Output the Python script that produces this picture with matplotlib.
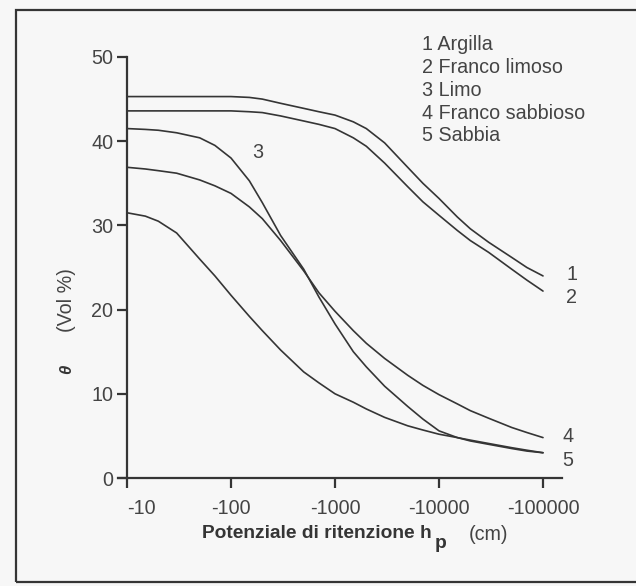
import numpy as np
import matplotlib.pyplot as plt
from matplotlib.patches import Rectangle

plt.rcParams['font.family'] = ['Liberation Sans', 'DejaVu Sans']

# potenziale di ritenzione (cm), plotted as |h| on a log axis
h = [10, 15, 20, 30, 50, 70, 100, 150, 200, 300, 500, 700, 1000, 1500, 2000,
     3000, 5000, 7000, 10000, 15000, 20000, 30000, 50000, 70000, 100000]

argilla = [45.3, 45.3, 45.3, 45.3, 45.3, 45.3, 45.3, 45.2, 45.0, 44.5, 43.9, 43.5, 43.1, 42.3, 41.5,
           39.8, 36.9, 35.0, 33.2, 31.0, 29.6, 28.0, 26.2, 25.0, 24.0]
franco_limoso = [43.6, 43.6, 43.6, 43.6, 43.6, 43.6, 43.6, 43.5, 43.4, 43.0, 42.4, 42.0, 41.5, 40.4, 39.4,
                 37.4, 34.6, 32.8, 31.2, 29.4, 28.2, 26.8, 24.8, 23.5, 22.2]
limo = [41.5, 41.4, 41.3, 41.0, 40.4, 39.5, 38.0, 35.3, 32.7, 28.8, 24.8, 21.5, 18.3, 15.0, 13.2,
        10.9, 8.5, 7.0, 5.6, 4.8, 4.4, 4.0, 3.5, 3.2, 3.0]
franco_sabbioso = [36.9, 36.7, 36.5, 36.2, 35.4, 34.7, 33.8, 32.2, 30.8, 28.2, 24.6, 22.0, 19.8, 17.5, 16.0,
                   14.2, 12.2, 11.0, 9.9, 8.8, 8.0, 7.1, 6.0, 5.4, 4.8]
sabbia = [31.5, 31.1, 30.5, 29.1, 26.0, 24.0, 21.7, 19.2, 17.5, 15.2, 12.6, 11.3, 10.0, 9.0, 8.2,
          7.2, 6.2, 5.7, 5.2, 4.8, 4.5, 4.1, 3.6, 3.3, 3.0]

curves = [argilla, franco_limoso, limo, franco_sabbioso, sabbia]
legend_lines = ['1 Argilla', '2 Franco limoso', '3 Limo', '4 Franco sabbioso', '5 Sabbia']
xticks = [10, 100, 1000, 10000, 100000]
xticklabels = ['-10', '-100', '-1000', '-10000', '-100000']
yticks = [0, 10, 20, 30, 40, 50]

W, H = 636, 586
ink = '#353535'
grey = '#444444'
fs = 14.2

fig = plt.figure(figsize=(W / 100, H / 100), dpi=100, facecolor='#f7f7f7')


def fx(px):
    return px / W


def fy(py):
    return 1 - py / H


# frame of the scanned figure
fig.patches.append(Rectangle((fx(16), fy(582)), fx(640) - fx(16), fy(10) - fy(582),
                             transform=fig.transFigure, fill=False, lw=1.6, ec=ink))

ax = fig.add_axes([fx(118), fy(478), fx(562) - fx(118), (478 - 57) / H])
ax.set_facecolor('none')
ax.set_xscale('log')
ax.set_xlim(8.19, 152300)
ax.set_ylim(0, 50)

for c in curves:
    ax.plot(h, c, color=ink, lw=1.2, solid_capstyle='round', solid_joinstyle='round')

ax.spines['top'].set_visible(False)
ax.spines['right'].set_visible(False)
ax.spines['left'].set_position(('data', 10))
ax.spines['left'].set_bounds(0, 50)
for s in ['left', 'bottom']:
    ax.spines[s].set_color(ink)
    ax.spines[s].set_linewidth(1.6)

ax.set_xticks(xticks)
ax.set_xticklabels(xticklabels)
ax.xaxis.set_minor_locator(plt.NullLocator())
ax.set_yticks(yticks)
ax.tick_params(axis='both', colors=ink, labelcolor=grey, labelsize=fs,
               width=1.6, length=7)
ax.tick_params(axis='x', pad=8)
ax.tick_params(axis='y', pad=3)
ax.get_xticklabels()[0].set_horizontalalignment('left')

# curve numbers
ax.text(182, 38.6, '3', fontsize=fs, color=grey, ha='center', va='center')
ax.text(190000, 24.2, '1', fontsize=fs, color=grey, ha='center', va='center', clip_on=False)
ax.text(190000, 21.4, '2', fontsize=fs, color=grey, ha='center', va='center', clip_on=False)
ax.text(174000, 4.9, '4', fontsize=fs, color=grey, ha='center', va='center', clip_on=False)
ax.text(174000, 2.1, '5', fontsize=fs, color=grey, ha='center', va='center', clip_on=False)

# legend block
for i, t in enumerate(legend_lines):
    fig.text(fx(422), fy(45 + 22.7 * i), t, fontsize=fs, color=grey, ha='left', va='center')

# axis titles
fig.text(fx(202), fy(534), 'Potenziale di ritenzione h', fontsize=13.8, fontweight='bold',
         color=ink, ha='left', va='center')
fig.text(fx(441), fy(544), 'p', fontsize=13.8, fontweight='bold', color=ink, ha='center', va='center')
fig.text(fx(489), fy(535), '(cm)', fontsize=fs, color=grey, ha='center', va='center')
fig.text(fx(67), fy(300), '(Vol %)', fontsize=fs, color=grey, rotation=90, ha='center', va='center')
fig.text(fx(67), fy(369), 'θ', fontsize=12, fontweight='bold', fontstyle='italic', color=ink,
         rotation=90, ha='center', va='center')

fig.savefig('out.png', dpi=100, facecolor=fig.get_facecolor())
